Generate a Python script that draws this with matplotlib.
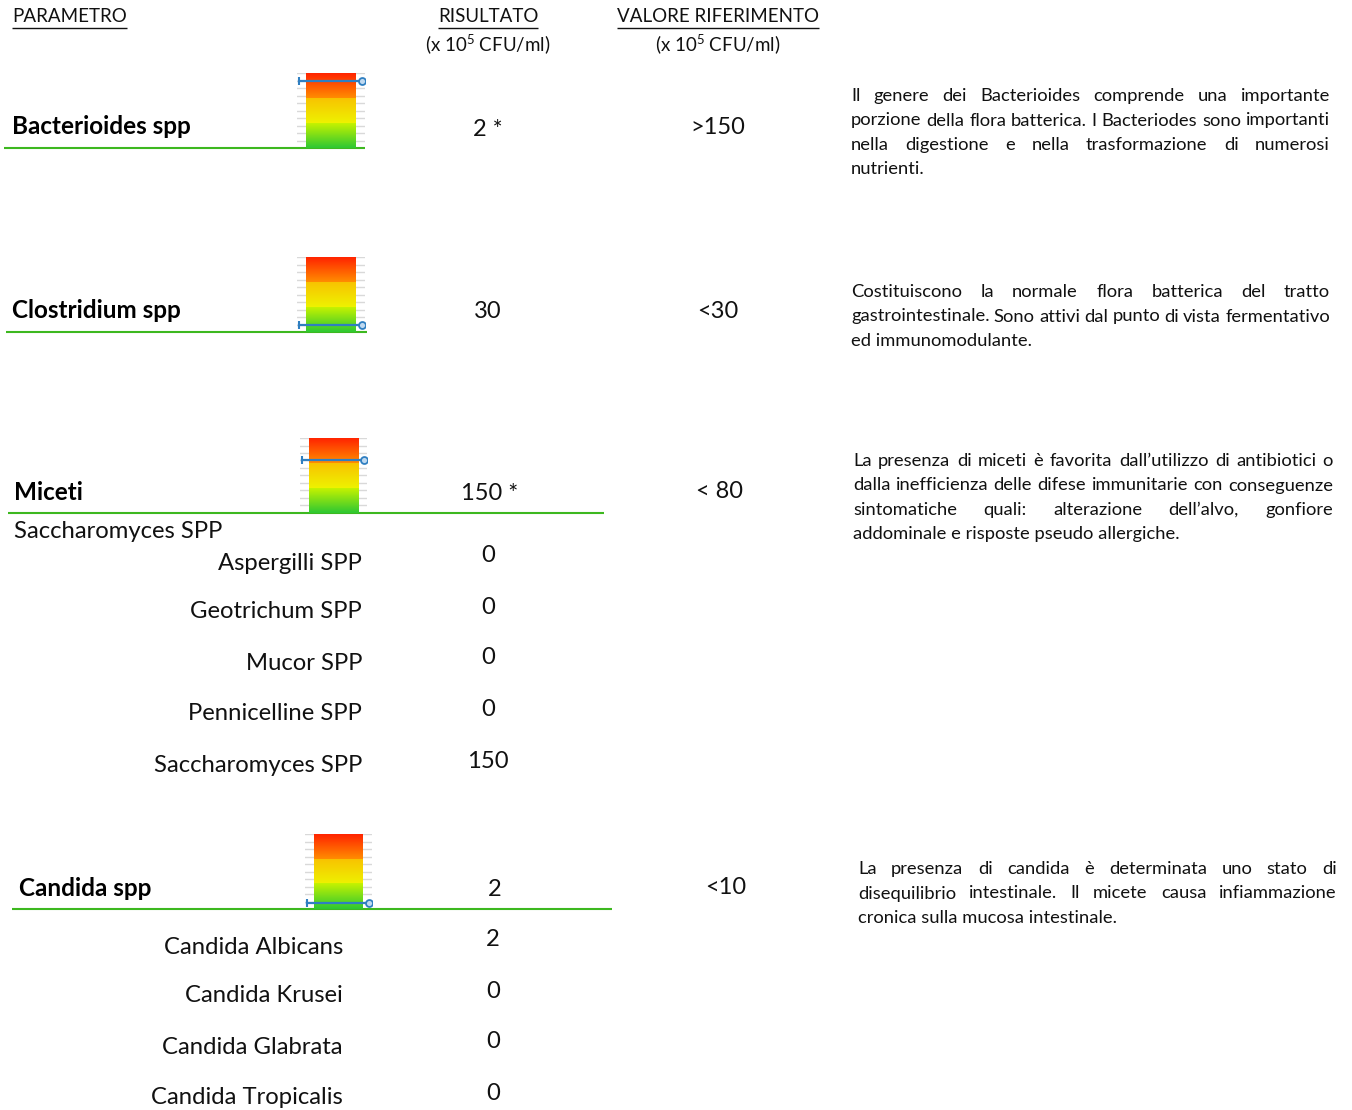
import matplotlib
matplotlib.use("Agg")
import matplotlib.pyplot as plt
import numpy as np
from matplotlib.colors import LinearSegmentedColormap

plt.rcParams['font.family'] = ['Lato', 'DejaVu Sans']
plt.rcParams['mathtext.fontset'] = 'custom'
plt.rcParams['mathtext.rm'] = 'Lato'
plt.rcParams['mathtext.it'] = 'Lato:italic'
plt.rcParams['mathtext.bf'] = 'Lato:bold'

# ---------------- data ----------------
headers = ["PARAMETRO", "RISULTATO", "VALORE RIFERIMENTO"]
unit_label = "(x 10$^{5}$ CFU/ml)"

params = ["Bacterioides spp", "Clostridium spp", "Miceti", "Candida spp"]
results = ["2 *", "30", "150 *", "2"]
references = [">150", "<30", "< 80", "<10"]
gauge_levels = [9.0, 0.9, 7.0, 0.8]   # position of the marker on a 0-10 gauge
gauge_max = 10

miceti_group_title = "Saccharomyces SPP"
miceti_sub = ["Aspergilli SPP", "Geotrichum SPP", "Mucor SPP", "Pennicelline SPP", "Saccharomyces SPP"]
miceti_sub_values = ["0", "0", "0", "0", "150"]
candida_sub = ["Candida Albicans", "Candida Krusei", "Candida Glabrata", "Candida Tropicalis"]
candida_sub_values = ["2", "0", "0", "0"]

descriptions = [
    ["Il genere dei Bacterioides comprende una importante",
     "porzione della flora batterica. I Bacteriodes sono importanti",
     "nella digestione e nella trasformazione di numerosi",
     "nutrienti."],
    ["Costituiscono la normale flora batterica del tratto",
     "gastrointestinale. Sono attivi dal punto di vista fermentativo",
     "ed immunomodulante."],
    ["La presenza di miceti è favorita dall\u2019utilizzo di antibiotici o",
     "dalla inefficienza delle difese immunitarie  con conseguenze",
     "sintomatiche quali: alterazione dell\u2019alvo, gonfiore",
     "addominale e risposte pseudo allergiche."],
    ["La presenza di candida è determinata uno stato di",
     "disequilibrio intestinale. Il micete causa infiammazione",
     "cronica sulla mucosa intestinale."],
]

# ---------------- layout ----------------
W, H = 1352, 1110
fig = plt.figure(figsize=(W / 100, H / 100), dpi=100)
ax = fig.add_axes([0, 0, 1, 1])
ax.set_xlim(0, W)
ax.set_ylim(H, 0)
ax.axis('off')
renderer = fig.canvas.get_renderer()

GREEN = '#3DB81F'
BLUE = '#2F7FC1'
TXT = '#111111'

def underline_text(x, y, s, ha, fs, uy):
    t = ax.text(x, y, s, ha=ha, va='center', fontsize=fs, color=TXT)
    bb = t.get_window_extent(renderer)
    ax.plot([bb.x0, bb.x1], [uy, uy], color=TXT, lw=1.0, solid_capstyle='butt')

hfs = 13.5
underline_text(12, 16, headers[0], 'left', hfs, 28)
underline_text(488, 16, headers[1], 'center', hfs, 28)
underline_text(718, 16, headers[2], 'center', hfs, 28)
ax.text(488, 44, unit_label, ha='center', va='center', fontsize=hfs, color=TXT)
ax.text(718, 44, unit_label, ha='center', va='center', fontsize=hfs, color=TXT)

rows = [
    dict(lx=12, ly=127, ux=(4, 365), uy=148, g=(306, 73, 356, 148), rx=488, ry=129, fx=718, fy=127, dx=(851, 1330), dy=96),
    dict(lx=12, ly=311, ux=(6, 367), uy=332, g=(306, 257, 356, 332), rx=488, ry=312, fx=718, fy=311, dx=(851, 1330), dy=292),
    dict(lx=14, ly=492, ux=(8, 604), uy=513, g=(309, 438, 358, 513), rx=490, ry=493, fx=720, fy=492, dx=(853, 1333), dy=461),
    dict(lx=19, ly=888, ux=(12, 612), uy=909, g=(314, 834, 363, 909), rx=495, ry=889, fx=726, fy=888, dx=(858, 1337), dy=869),
]

red_cmap = LinearSegmentedColormap.from_list('r', ['#FF2400', '#FF8C00'])
yel_cmap = LinearSegmentedColormap.from_list('y', ['#F8C300', '#EEF200'])
grn_cmap = LinearSegmentedColormap.from_list('g', ['#C6F200', '#2EC832'])
grad = np.linspace(0, 1, 64).reshape(-1, 1)

def draw_gauge(box, level):
    x0, y0, x1, y1 = box
    pad = 9
    gx0, gx1 = x0 - pad, x1 + pad
    gax = fig.add_axes([gx0 / W, 1 - y1 / H, (gx1 - gx0) / W, (y1 - y0) / H])
    gax.axis('off')
    for yv in range(1, gauge_max + 1):
        gax.plot([gx0, gx1], [yv, yv], color='#D9D9D9', lw=1.0, zorder=0)
    third = gauge_max / 3
    # origin='upper': first row (first colour) is drawn at the top
    gax.imshow(grad, cmap=red_cmap, extent=[x0, x1, 2 * third, gauge_max], aspect='auto', origin='upper', zorder=1)
    gax.imshow(grad, cmap=yel_cmap, extent=[x0, x1, third, 2 * third], aspect='auto', origin='upper', zorder=1)
    gax.imshow(grad, cmap=grn_cmap, extent=[x0, x1, 0, third], aspect='auto', origin='upper', zorder=1)
    gax.set_ylim(0, gauge_max)
    gax.set_xlim(gx0, gx1)
    lx0, lx1 = x0 - 7, x1 + 6
    gax.plot([lx0, lx1], [level, level], color=BLUE, lw=1.6, zorder=3)
    gax.plot([lx0], [level], marker='|', color=BLUE, ms=6, mew=1.5, zorder=4)
    gax.plot([lx1], [level], marker='o', color=BLUE, ms=5, mew=1.3, mfc='#BFD9F0', zorder=4)

lab_fs = 17.5
val_fs = 17
desc_fs = 13.2
sub_fs = 17.2

def justify(lines, x0, x1, y, dy, fs):
    for i, line in enumerate(lines):
        yy = y + i * dy
        words = line.split()
        if i == len(lines) - 1 or len(words) < 2:
            ax.text(x0, yy, line, ha='left', va='center', fontsize=fs, color=TXT)
            continue
        ts = [ax.text(0, yy, w, ha='left', va='center', fontsize=fs, color=TXT) for w in words]
        widths = [t.get_window_extent(renderer).width for t in ts]
        gap = (x1 - x0 - sum(widths)) / (len(words) - 1)
        cx = x0
        for t, wdt in zip(ts, widths):
            t.set_x(cx)
            cx += wdt + gap

for name, res, ref, lvl, desc, r in zip(params, results, references, gauge_levels, descriptions, rows):
    ax.text(r['lx'], r['ly'], name, ha='left', va='center', fontsize=lab_fs, fontweight='bold', color='black')
    ax.plot(r['ux'], [r['uy'], r['uy']], color=GREEN, lw=1.5, solid_capstyle='butt')
    ax.text(r['rx'], r['ry'], res, ha='center', va='center', fontsize=val_fs, color=TXT)
    ax.text(r['fx'], r['fy'], ref, ha='center', va='center', fontsize=val_fs, color=TXT)
    draw_gauge(r['g'], lvl)
    justify(desc, r['dx'][0], r['dx'][1], r['dy'], 24.5, desc_fs)

# Miceti sub-items
ax.text(14, 532, miceti_group_title, ha='left', va='center', fontsize=sub_fs, color=TXT)
mic_y = [563, 612, 663, 714, 766]
mic_vy = [555, 607, 658, 709, 761]
for s, v, y, vy in zip(miceti_sub, miceti_sub_values, mic_y, mic_vy):
    ax.text(362, y, s, ha='right', va='center', fontsize=sub_fs, color=TXT)
    ax.text(488, vy, v, ha='center', va='center', fontsize=sub_fs, color=TXT)

# Candida sub-items
can_y = [947, 996, 1047, 1098]
can_vy = [939, 991, 1042, 1094]
for s, v, y, vy in zip(candida_sub, candida_sub_values, can_y, can_vy):
    ax.text(343, y, s, ha='right', va='center', fontsize=sub_fs, color=TXT)
    ax.text(493, vy, v, ha='center', va='center', fontsize=sub_fs, color=TXT)

fig.savefig('out.png', dpi=100)
